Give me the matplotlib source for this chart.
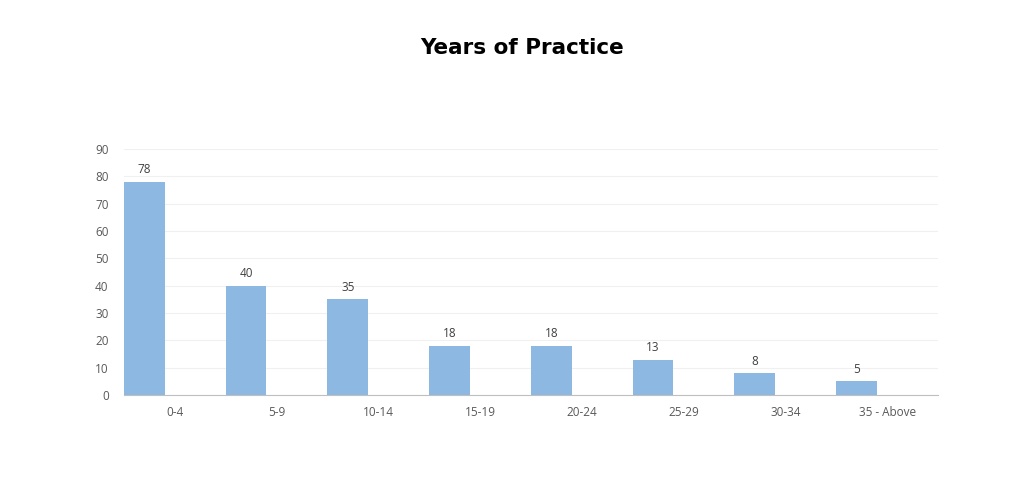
import matplotlib
matplotlib.use('Agg')
import matplotlib.pyplot as plt
import numpy as np

categories = ['0-4', '5-9', '10-14', '15-19', '20-24', '25-29', '30-34', '35 - Above']
counts = [78, 40, 35, 18, 18, 13, 8, 5]


def main():
    fig = plt.figure(figsize=(10.24, 4.79), dpi=100)
    ax = fig.add_axes([0.121, 0.175, 0.795, 0.514])

    x = np.arange(len(categories))
    bar_w = 0.4
    bars = ax.bar(x, counts, width=bar_w, align='edge', color='#8DB8E2', zorder=2)
    for rect, val in zip(bars, counts):
        ax.text(rect.get_x() + rect.get_width() / 2, val + 2, str(val),
                ha='center', va='bottom', fontsize=8.5, color='#404040', family='Open Sans')

    ax.set_xlim(0, len(categories))
    ax.set_ylim(0, 90)
    ax.set_yticks(range(0, 91, 10))
    ax.set_xticks(x + 0.5)
    ax.set_xticklabels(categories)
    for lab in ax.get_xticklabels() + ax.get_yticklabels():
        lab.set_family('Open Sans')
        lab.set_fontsize(8.5)
        lab.set_color('#595959')
    ax.tick_params(axis='both', length=0, pad=8)
    ax.tick_params(axis='y', pad=11)
    ax.yaxis.grid(True, color='#F0F0F0', linewidth=0.8, zorder=0)
    for side in ['top', 'right', 'left']:
        ax.spines[side].set_visible(False)
    ax.spines['bottom'].set_color('#BFBFBF')

    fig.text(0.51, 0.90, 'Years of Practice', ha='center', va='center',
             fontsize=15.5, fontweight='heavy', family='DejaVu Sans')

    fig.savefig('out.png', dpi=100)


if __name__ == '__main__':
    main()
